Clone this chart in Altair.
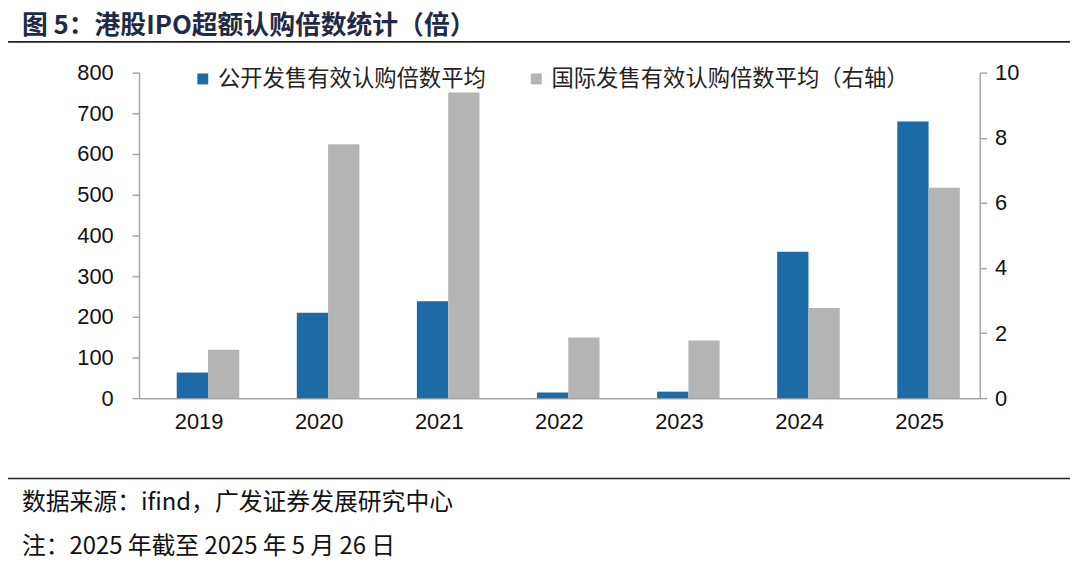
import altair as alt
import pandas as pd

years = ["2019", "2020", "2021", "2022", "2023", "2024", "2025"]
public_avg = [63, 210, 238, 14, 16, 360, 680]
intl_avg = [1.49, 7.80, 9.39, 1.86, 1.77, 2.77, 6.46]
series = ["公开发售有效认购倍数平均", "国际发售有效认购倍数平均（右轴）"]
colors = ["#1C6AA6", "#B4B4B4"]
left_ticks = [0, 100, 200, 300, 400, 500, 600, 700, 800]
right_ticks = [0, 2, 4, 6, 8, 10]

title_text = "图 5：港股IPO超额认购倍数统计（倍）"
source_text = "数据来源：ifind，广发证券发展研究中心"
note_text = "注：2025 年截至 2025 年 5 月 26 日"

CJK = "Noto Sans CJK SC"
NUM = "Liberation Sans"
AXIS_GRAY = "#A6A6A6"

df_pub = pd.DataFrame({"year": years, "value": public_avg, "series": series[0]})
df_int = pd.DataFrame({"year": years, "value": intl_avg, "series": series[1]})

x_enc = alt.X(
    "year:N", sort=years, title=None,
    scale=alt.Scale(paddingInner=0, paddingOuter=0),
    axis=alt.Axis(labelAngle=0, ticks=False, domainColor=AXIS_GRAY, domainWidth=1.5,
                  labelFont=NUM, labelFontSize=22, labelPadding=14, labelColor="#111111"),
)
xoff_enc = alt.XOffset(
    "series:N", sort=series,
    scale=alt.Scale(domain=series, paddingInner=0, paddingOuter=0.92, align=0.655),
)
color_enc = alt.Color(
    "series:N",
    scale=alt.Scale(domain=series, range=colors),
    legend=alt.Legend(
        title=None, orient="none", direction="horizontal", legendX=53, legendY=-5,
        symbolType="square", symbolSize=121, symbolStrokeWidth=0,
        labelFont=CJK, labelFontSize=22.5, labelColor="#222222", labelOffset=4,
        labelLimit=0, columnPadding=39,
    ),
)

bars_pub = alt.Chart(df_pub).mark_bar().encode(
    x=x_enc,
    xOffset=xoff_enc,
    y=alt.Y("value:Q", title=None,
            scale=alt.Scale(domain=[0, 800], nice=False),
            axis=alt.Axis(orient="left", values=left_ticks, grid=False,
                          domainColor=AXIS_GRAY, domainWidth=1.5, tickColor=AXIS_GRAY,
                          tickSize=7, tickWidth=1.5, labelFont=NUM, labelFontSize=22,
                          labelPadding=19, labelColor="#111111")),
    color=color_enc,
)

bars_int = alt.Chart(df_int).mark_bar().encode(
    x=x_enc,
    xOffset=xoff_enc,
    y=alt.Y("value:Q", title=None,
            scale=alt.Scale(domain=[0, 10], nice=False),
            axis=alt.Axis(orient="right", values=right_ticks, grid=False,
                          domainColor=AXIS_GRAY, domainWidth=1.5, tickColor=AXIS_GRAY,
                          tickSize=7, tickWidth=1.5, labelFont=NUM, labelFontSize=22,
                          labelPadding=8, labelColor="#111111")),
    color=color_enc,
)

bars = alt.layer(bars_pub, bars_int).resolve_scale(y="independent")

title_mark = alt.Chart(pd.DataFrame({"t": [title_text]})).mark_text(
    align="left", baseline="middle", font=CJK, fontWeight="bold", fontSize=26, color="#1f2a44"
).encode(text="t:N", x=alt.value(-118), y=alt.value(-47))

top_rule = alt.Chart(pd.DataFrame({"a": [0]})).mark_rule(color="#222222", strokeWidth=1.6).encode(
    x=alt.value(-135), x2=alt.value(938), y=alt.value(-31)
)
bottom_rule = alt.Chart(pd.DataFrame({"a": [0]})).mark_rule(color="#222222", strokeWidth=1.6).encode(
    x=alt.value(-135), x2=alt.value(938), y=alt.value(409)
)

source_mark = alt.Chart(pd.DataFrame({"t": [source_text]})).mark_text(
    align="left", baseline="middle", font=CJK, fontSize=24, color="#111111"
).encode(text="t:N", x=alt.value(-118), y=alt.value(434))

note_mark = alt.Chart(pd.DataFrame({"t": [note_text]})).mark_text(
    align="left", baseline="middle", font=CJK, fontSize=24, color="#111111"
).encode(text="t:N", x=alt.value(-118), y=alt.value(478))

chart = alt.layer(
    bars, title_mark, top_rule, bottom_rule, source_mark, note_mark
).properties(
    width=847, height=328,
    autosize=alt.AutoSizeParams(type="none"),
    padding={"left": 132, "top": 63, "right": 93, "bottom": 169},
    background="white",
).configure_view(stroke=None)

chart.save("out.html", embed_options={"renderer": "svg", "actions": False})
